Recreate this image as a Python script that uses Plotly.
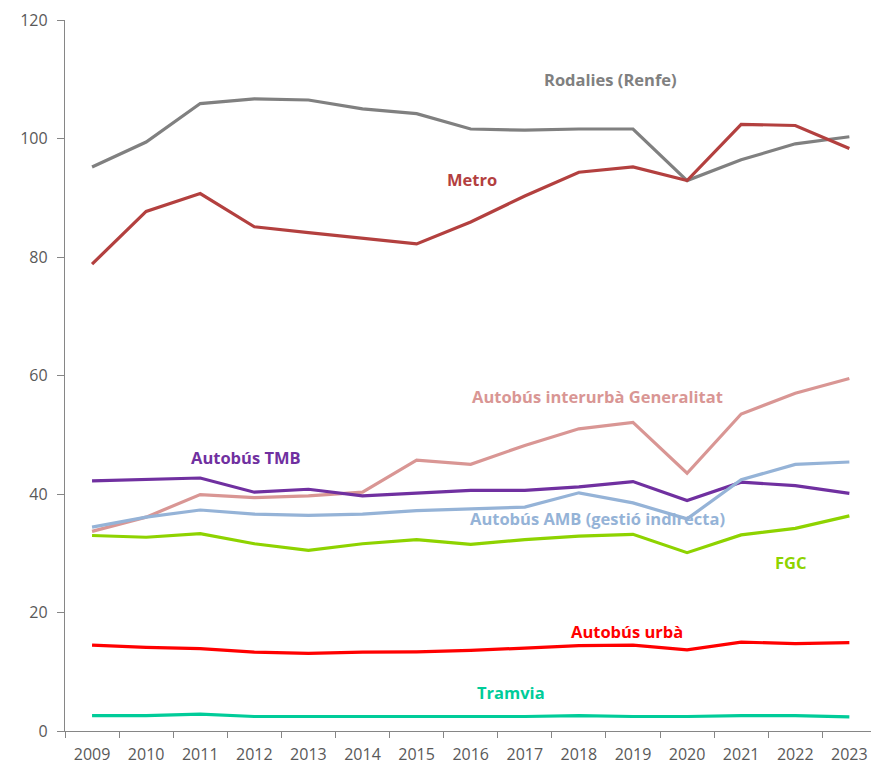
import plotly.graph_objects as go

years = [str(y) for y in range(2009, 2024)]

rodalies = [95.2, 99.4, 105.9, 106.7, 106.5, 105.0, 104.2, 101.6, 101.4, 101.6, 101.6, 92.9, 96.4, 99.1, 100.3]
metro = [78.8, 87.7, 90.7, 85.1, 84.1, 83.2, 82.2, 85.9, 90.3, 94.3, 95.2, 92.9, 102.4, 102.2, 98.3]
interurba = [33.7, 36.1, 39.9, 39.4, 39.7, 40.3, 45.7, 45.0, 48.2, 51.0, 52.1, 43.5, 53.5, 57.0, 59.5]
tmb = [42.2, 42.4, 42.7, 40.3, 40.8, 39.7, 40.2, 40.6, 40.6, 41.2, 42.1, 38.9, 42.0, 41.4, 40.1]
amb = [34.4, 36.1, 37.3, 36.6, 36.4, 36.6, 37.2, 37.5, 37.8, 40.2, 38.5, 35.8, 42.4, 45.0, 45.4]
fgc = [33.0, 32.7, 33.3, 31.6, 30.5, 31.6, 32.3, 31.5, 32.3, 32.9, 33.2, 30.1, 33.1, 34.2, 36.3]
urba = [14.5, 14.1, 13.9, 13.3, 13.1, 13.3, 13.35, 13.6, 14.0, 14.4, 14.5, 13.7, 15.0, 14.75, 14.9]
tramvia = [2.6, 2.6, 2.85, 2.45, 2.45, 2.45, 2.45, 2.45, 2.45, 2.6, 2.45, 2.45, 2.6, 2.6, 2.4]

series = [
    ("Rodalies (Renfe)", rodalies, "#808080", 9.59, 109.9),
    ("Metro", metro, "#B3403F", 7.02, 93.1),
    ("Autobús interurbà Generalitat", interurba, "#D99694", 9.35, 56.5),
    ("Autobús TMB", tmb, "#7030A0", 2.85, 46.2),
    ("Autobús AMB (gestió indirecta)", amb, "#95B3D7", 9.35, 35.8),
    ("FGC", fgc, "#8ED300", 12.92, 28.4),
    ("Autobús urbà", urba, "#FF0000", 9.89, 16.8),
    ("Tramvia", tramvia, "#00CC99", 7.74, 6.55),
]

fig = go.Figure()
annotations = []
for name, vals, color, ax, ay in series:
    fig.add_trace(go.Scatter(x=years, y=vals, mode="lines", name=name,
                             line=dict(color=color, width=3.2), showlegend=False))
    annotations.append(dict(x=ax, y=ay, xref="x", yref="y", text=name, showarrow=False,
                            font=dict(family="Open Sans", size=16.5, color=color, weight="bold"),
                            xanchor="center", yanchor="middle"))

fig.update_layout(
    width=871, height=765,
    margin=dict(l=65, r=0, t=20, b=27),
    plot_bgcolor="white", paper_bgcolor="white",
    annotations=annotations,
    font=dict(family="Open Sans", size=16, color="#595959"),
)
fig.update_xaxes(type="category", range=[-0.5, 14.4], showline=True, linecolor="#868686",
                 linewidth=1.3, ticks="outside", tickson="boundaries", ticklen=6,
                 tickcolor="#868686", tickwidth=1.3, showgrid=False, zeroline=False,
                 ticklabelstandoff=9, tickfont=dict(size=16, color="#595959"))
fig.update_yaxes(range=[0, 120], tickvals=[0, 20, 40, 60, 80, 100, 120], showline=True,
                 linecolor="#868686", linewidth=1.3, ticks="outside", ticklen=7,
                 tickcolor="#868686", tickwidth=1.3, showgrid=False, zeroline=False,
                 ticklabelstandoff=6, tickfont=dict(size=16, color="#595959"))

fig.write_html("out.html", config={"displayModeBar": False},
               post_script="document.body.style.margin='0';document.body.style.overflow='hidden';")
